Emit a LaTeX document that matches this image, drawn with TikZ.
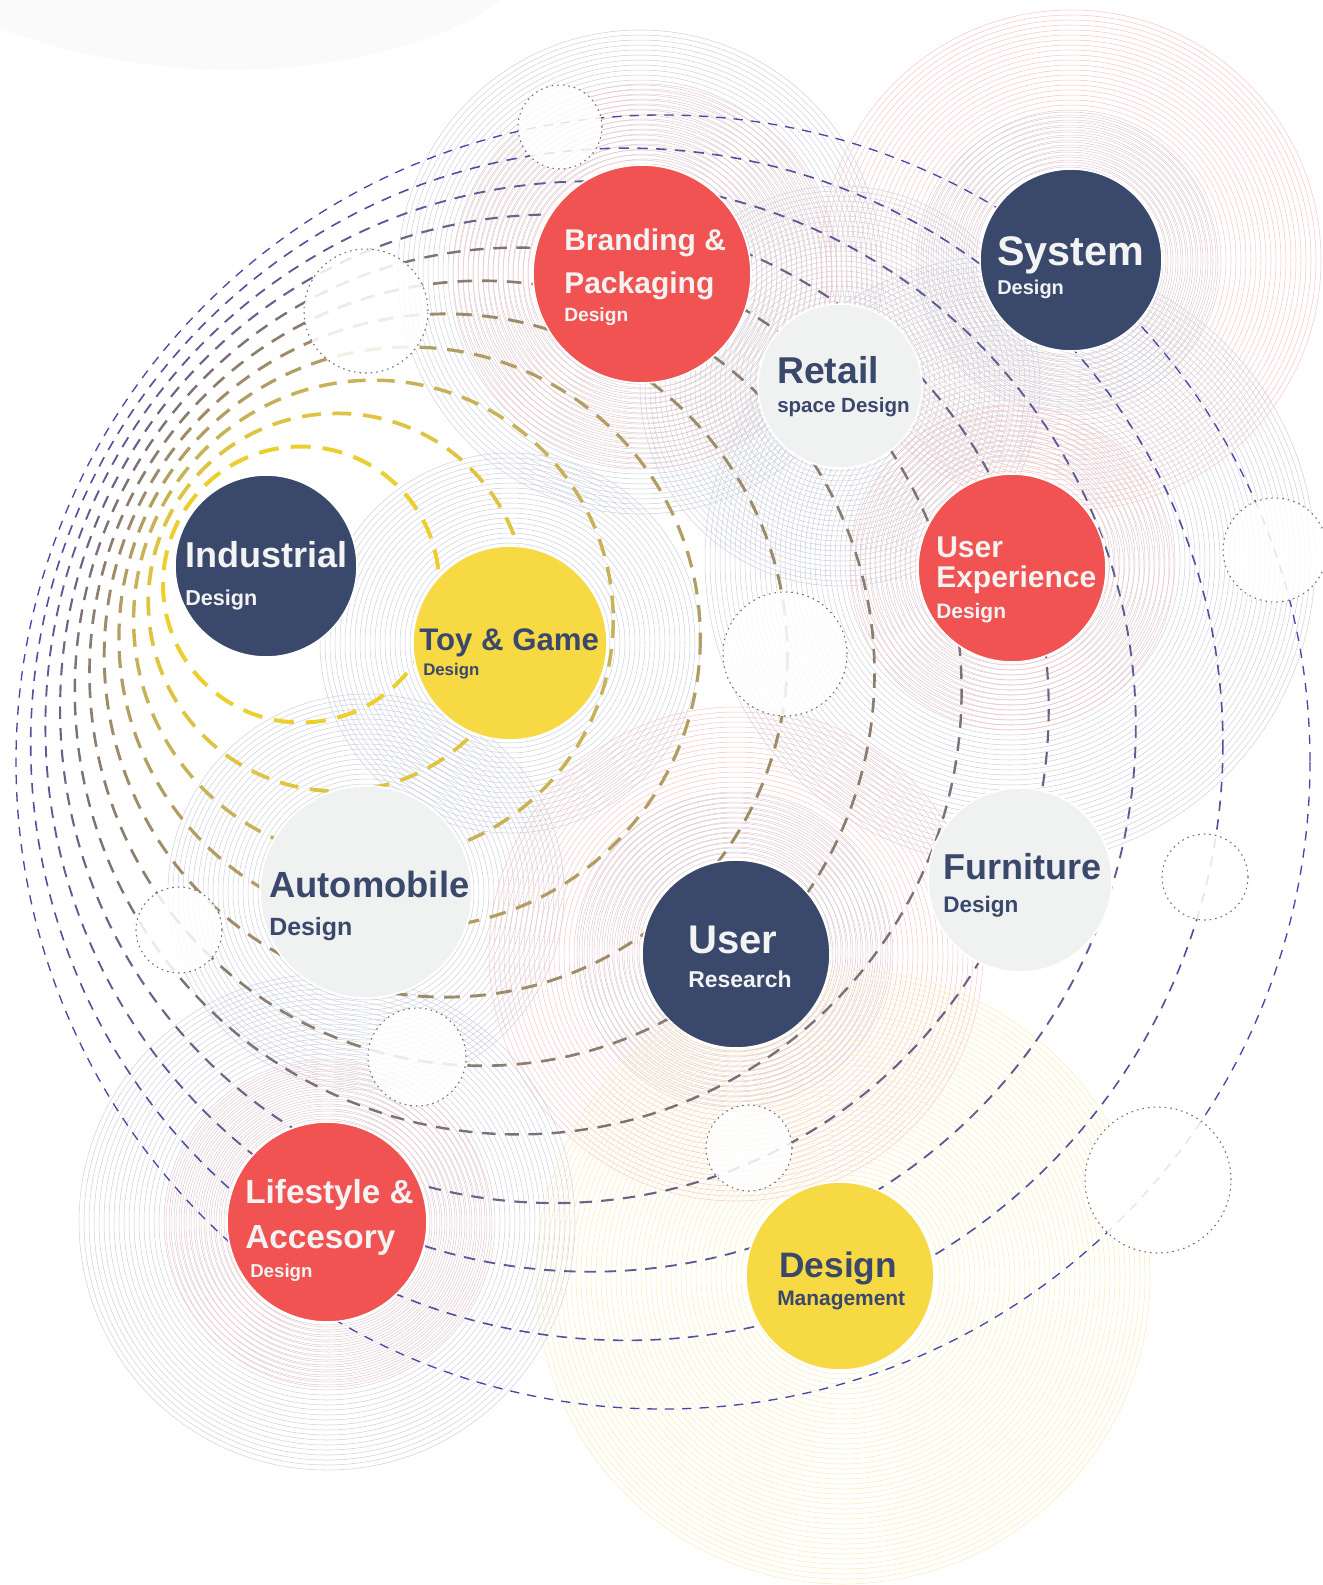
\documentclass[tikz,border=0pt]{standalone}
\usepackage{fontspec}
\setmainfont{Liberation Sans}
\definecolor{cred}{RGB}{240,83,82}
\definecolor{cnavy}{RGB}{58,72,108}
\definecolor{cyel}{RGB}{247,217,68}
\definecolor{cgrey}{RGB}{240,242,241}
\definecolor{ctxtw}{RGB}{243,243,243}
\definecolor{ringg}{RGB}{204,208,220}
\definecolor{ringp}{RGB}{245,198,198}
\definecolor{ringy}{RGB}{250,236,176}
\definecolor{dotc}{RGB}{110,110,115}
\definecolor{blobc}{RGB}{250,250,251}
\newcommand{\fsz}[1]{\fontsize{#1}{#1}\selectfont}
\newcommand{\ringset}[5]{\foreach \i in {0,...,#4}{\pgfmathsetmacro\rr{#3+5*\i}\draw[ringst,#5] (#1,#2) circle[radius=\rr];}}
\begin{document}
\begin{tikzpicture}[x=0.75pt,y=-0.75pt,
  bub/.style={circle, inner sep=0pt, minimum size=#1*1.5pt, draw=white, line width=1.2pt},
  lbl/.style={inner sep=0pt, anchor=base west},
  ringst/.style={line width=0.38pt},
  dotcirc/.style={circle, inner sep=0pt, minimum size=#1*1.5pt, draw=dotc, fill=white, fill opacity=0.85, line width=0.8pt, dash pattern=on 1.2pt off 3pt}]
\useasboundingbox (0,0) rectangle (1323,1585);
\clip (0,0) rectangle (1323,1585);
\fill[white] (0,0) rectangle (1323,1585);
\fill[blobc] (0,0) -- (500,0) .. controls (470,25) and (400,58) .. (280,68) .. controls (170,76) and (70,55) .. (0,28) -- cycle;
% ripple ring sets
\ringset{640}{272}{112}{26}{ringg}
\ringset{645}{276}{112}{16}{ringp}
\ringset{1071}{260}{95}{31}{ringp}
\ringset{1068}{262}{95}{11}{ringg}
\ringset{840}{386}{85}{23}{ringg}
\ringset{1010}{560}{100}{41}{ringg}
\ringset{1012}{568}{97}{13}{ringp}
\ringset{510}{643}{100}{18}{ringg}
\ringset{366}{892}{108}{18}{ringg}
\ringset{736}{954}{97}{30}{ringp}
\ringset{734}{950}{97}{12}{ringg}
\ringset{327}{1222}{103}{29}{ringg}
\ringset{329}{1224}{103}{12}{ringp}
\ringset{843}{1277}{97}{42}{ringy}
% dashed arcs
\foreach \k/\R/\G/\B in {0/236/206/44,1/222/196/66,2/200/178/88,3/178/158/98,4/158/140/104,5/140/126/110,6/124/112/122,7/108/100/134,8/94/90/146,9/82/80/156,10/72/72/166}{
  \pgfmathsetmacro\cx{301+36.2*\k}
  \pgfmathsetmacro\cy{584.5+17.75*\k}
  \pgfmathsetmacro\rad{138+50.9*\k}
  \pgfmathsetlengthmacro\lw{(3-0.2*\k)*1pt}
  \pgfmathsetlengthmacro\don{(15-0.8*\k)*1pt}
  \pgfmathsetlengthmacro\doff{(9-0.3*\k)*1pt}
  \definecolor{arcc}{RGB}{\R,\G,\B}
  \draw[arcc, line width=\lw, dash pattern=on \don off \doff] (\cx,\cy) circle[radius=\rad];
}
% dotted circles
\node[dotcirc=42] (d1) at (560,127) {};
\node[dotcirc=62] (d2) at (366,311) {};
\node[dotcirc=62] (d3) at (785,654) {};
\node[dotcirc=52] (d4) at (1275,550) {};
\node[dotcirc=43] (d5) at (179,930) {};
\node[dotcirc=49] (d6) at (417,1057) {};
\node[dotcirc=43] (d7) at (1205,877) {};
\node[dotcirc=43] (d8) at (749,1148) {};
\node[dotcirc=73] (d9) at (1158,1180) {};
% main bubbles
\node[bub=109, fill=cred] (brand) at (642,274) {};
\node[bub=91, fill=cnavy] (sys) at (1071,260) {};
\node[bub=82, fill=cgrey] (ret) at (840,386) {};
\node[bub=94, fill=cred] (ux) at (1012,568) {};
\node[bub=91, fill=cnavy] (ind) at (266,566) {};
\node[bub=97, fill=cyel] (toy) at (510,643) {};
\node[bub=106, fill=cgrey] (aut) at (366,892) {};
\node[bub=94, fill=cnavy] (ur) at (736,954) {};
\node[bub=92, fill=cgrey] (fur) at (1020,880) {};
\node[bub=100, fill=cred] (lif) at (327,1222) {};
\node[bub=94, fill=cyel] (dm) at (840,1276) {};
% labels
\node[lbl, ctxtw, font=\bfseries\fsz{22.5}] (brandA) at (564,250) {Branding \&};
\node[lbl, ctxtw, font=\bfseries\fsz{22.5}] (brandB) at (564,293) {Packaging};
\node[lbl, ctxtw, font=\bfseries\fsz{14.4}] (brandC) at (564,321) {Design};
\node[lbl, ctxtw, font=\bfseries\fsz{31}] (sysA) at (997,265) {System};
\node[lbl, ctxtw, font=\bfseries\fsz{15}] (sysB) at (997,294) {Design};
\node[lbl, cnavy, font=\bfseries\fsz{28}] (retA) at (777,383) {Retail};
\node[lbl, cnavy, font=\bfseries\fsz{15.4}] (retB) at (777,412) {space Design};
\node[lbl, ctxtw, font=\bfseries\fsz{22.5}] (uxA) at (936,557) {User};
\node[lbl, ctxtw, font=\bfseries\fsz{22.5}] (uxB) at (936,587) {Experience};
\node[lbl, ctxtw, font=\bfseries\fsz{15.7}] (uxC) at (936,618) {Design};
\node[lbl, ctxtw, font=\bfseries\fsz{27}] (indA) at (185,567) {Industrial};
\node[lbl, ctxtw, font=\bfseries\fsz{16.2}] (indB) at (185,605) {Design};
\node[lbl, cnavy, font=\bfseries\fsz{23.4}] (toyA) at (419,650) {Toy \& Game};
\node[lbl, cnavy, font=\bfseries\fsz{12.6}] (toyB) at (423,675) {Design};
\node[lbl, cnavy, font=\bfseries\fsz{27.3}] (autA) at (269,897) {Automobile};
\node[lbl, cnavy, font=\bfseries\fsz{18.7}] (autB) at (269,935) {Design};
\node[lbl, ctxtw, font=\bfseries\fsz{30}] (urA) at (688,953) {User};
\node[lbl, ctxtw, font=\bfseries\fsz{17.2}] (urB) at (688,987) {Research};
\node[lbl, cnavy, font=\bfseries\fsz{27}] (furA) at (943,879) {Furniture};
\node[lbl, cnavy, font=\bfseries\fsz{16.9}] (furB) at (943,912) {Design};
\node[lbl, ctxtw, font=\bfseries\fsz{25}] (lifA) at (245,1203) {Lifestyle \&};
\node[lbl, ctxtw, font=\bfseries\fsz{25}] (lifB) at (245,1248) {Accesory};
\node[lbl, ctxtw, font=\bfseries\fsz{14}] (lifC) at (250,1277) {Design};
\node[lbl, cnavy, font=\bfseries\fsz{26.5}] (dmA) at (779,1277) {Design};
\node[lbl, cnavy, font=\bfseries\fsz{15.7}] (dmB) at (777,1305) {Management};
\end{tikzpicture}
\end{document}
